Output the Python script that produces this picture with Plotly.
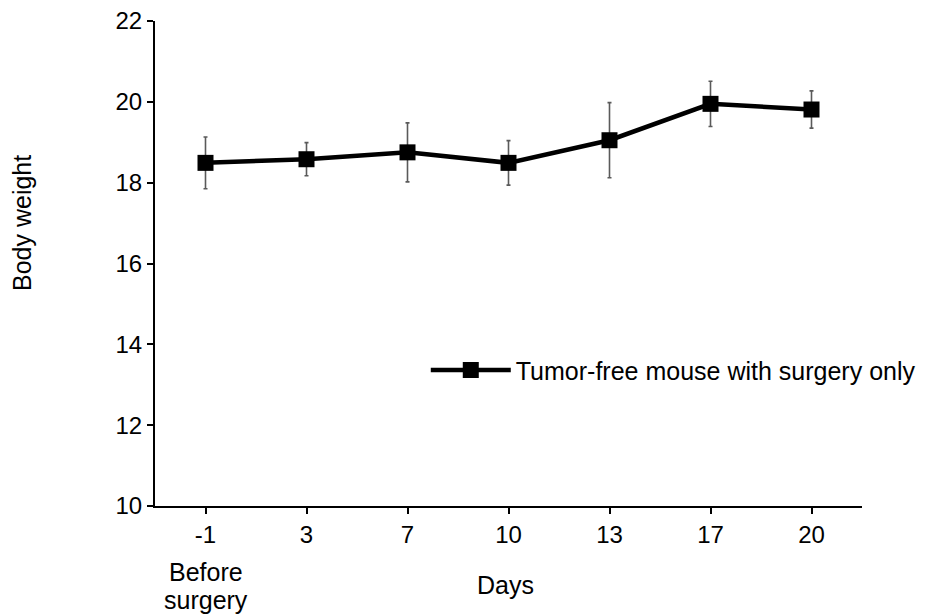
import plotly.graph_objects as go

days = ["-1", "3", "7", "10", "13", "17", "20"]
weight = [18.49, 18.58, 18.75, 18.49, 19.05, 19.95, 19.81]
err = [0.64, 0.41, 0.73, 0.55, 0.93, 0.56, 0.46]
y_ticks = [10, 12, 14, 16, 18, 20, 22]
series_name = "Tumor-free mouse with surgery only"
x_title = "Days"
y_title = "Body weight"
first_day_note = ["Before", "surgery"]

font_family = "Arial, Liberation Sans, sans-serif"
FS = 24
FS_TXT = 25

# page body has an 8px margin, so the figure is a bit smaller than the window
W, H = 921, 608
L, T, B, R = 147, 13, 110, 67
plot_h = H - T - B

def py(screen_y):
    # screen pixel y -> paper coordinate
    return (H - B - (screen_y - 8)) / plot_h

fig = go.Figure()
fig.add_trace(go.Scatter(
    x=days, y=weight, name=series_name, mode="lines+markers",
    line=dict(color="black", width=4.5),
    marker=dict(symbol="square", size=16, color="black"),
    error_y=dict(type="data", array=err, visible=True, color="#5a5a5a", thickness=1.6, width=2),
))

fig.update_layout(
    width=W, height=H,
    margin=dict(l=L, r=R, t=T, b=B, autoexpand=False),
    paper_bgcolor="white", plot_bgcolor="white",
    font=dict(family=font_family, size=FS, color="black"),
    showlegend=True,
    legend=dict(x=0.383, y=0.28, xanchor="left", yanchor="middle",
                bgcolor="rgba(0,0,0,0)", font=dict(size=FS_TXT), itemwidth=80),
    xaxis=dict(
        type="category", range=[-0.5, 6.5], automargin=False,
        showline=True, linecolor="black", linewidth=2,
        ticks="outside", ticklen=6, tickwidth=2, tickcolor="black",
        showgrid=False, zeroline=False, tickfont=dict(size=FS),
    ),
    yaxis=dict(
        range=[10, 22], tickvals=y_ticks, automargin=False,
        showline=True, linecolor="black", linewidth=2,
        ticks="outside", ticklen=6, tickwidth=2, tickcolor="black",
        showgrid=False, zeroline=False, tickfont=dict(size=FS),
        ticklabeloverflow="allow",
    ),
)

fig.add_annotation(text=first_day_note[0], x=0, xref="x", y=py(572), yref="paper",
                   showarrow=False, font=dict(size=FS_TXT), yanchor="middle")
fig.add_annotation(text=first_day_note[1], x=0, xref="x", y=py(600), yref="paper",
                   showarrow=False, font=dict(size=FS_TXT), yanchor="middle")
fig.add_annotation(text=x_title, x=(505 - 155) / 707, xref="paper", y=py(585), yref="paper",
                   showarrow=False, font=dict(size=FS_TXT), yanchor="middle")
fig.add_annotation(text=y_title, textangle=-90, x=(22 - 155) / 707, xref="paper",
                   xanchor="center", y=py(223), yref="paper", yanchor="middle",
                   showarrow=False, font=dict(size=FS_TXT))

fig.write_html("out.html")
